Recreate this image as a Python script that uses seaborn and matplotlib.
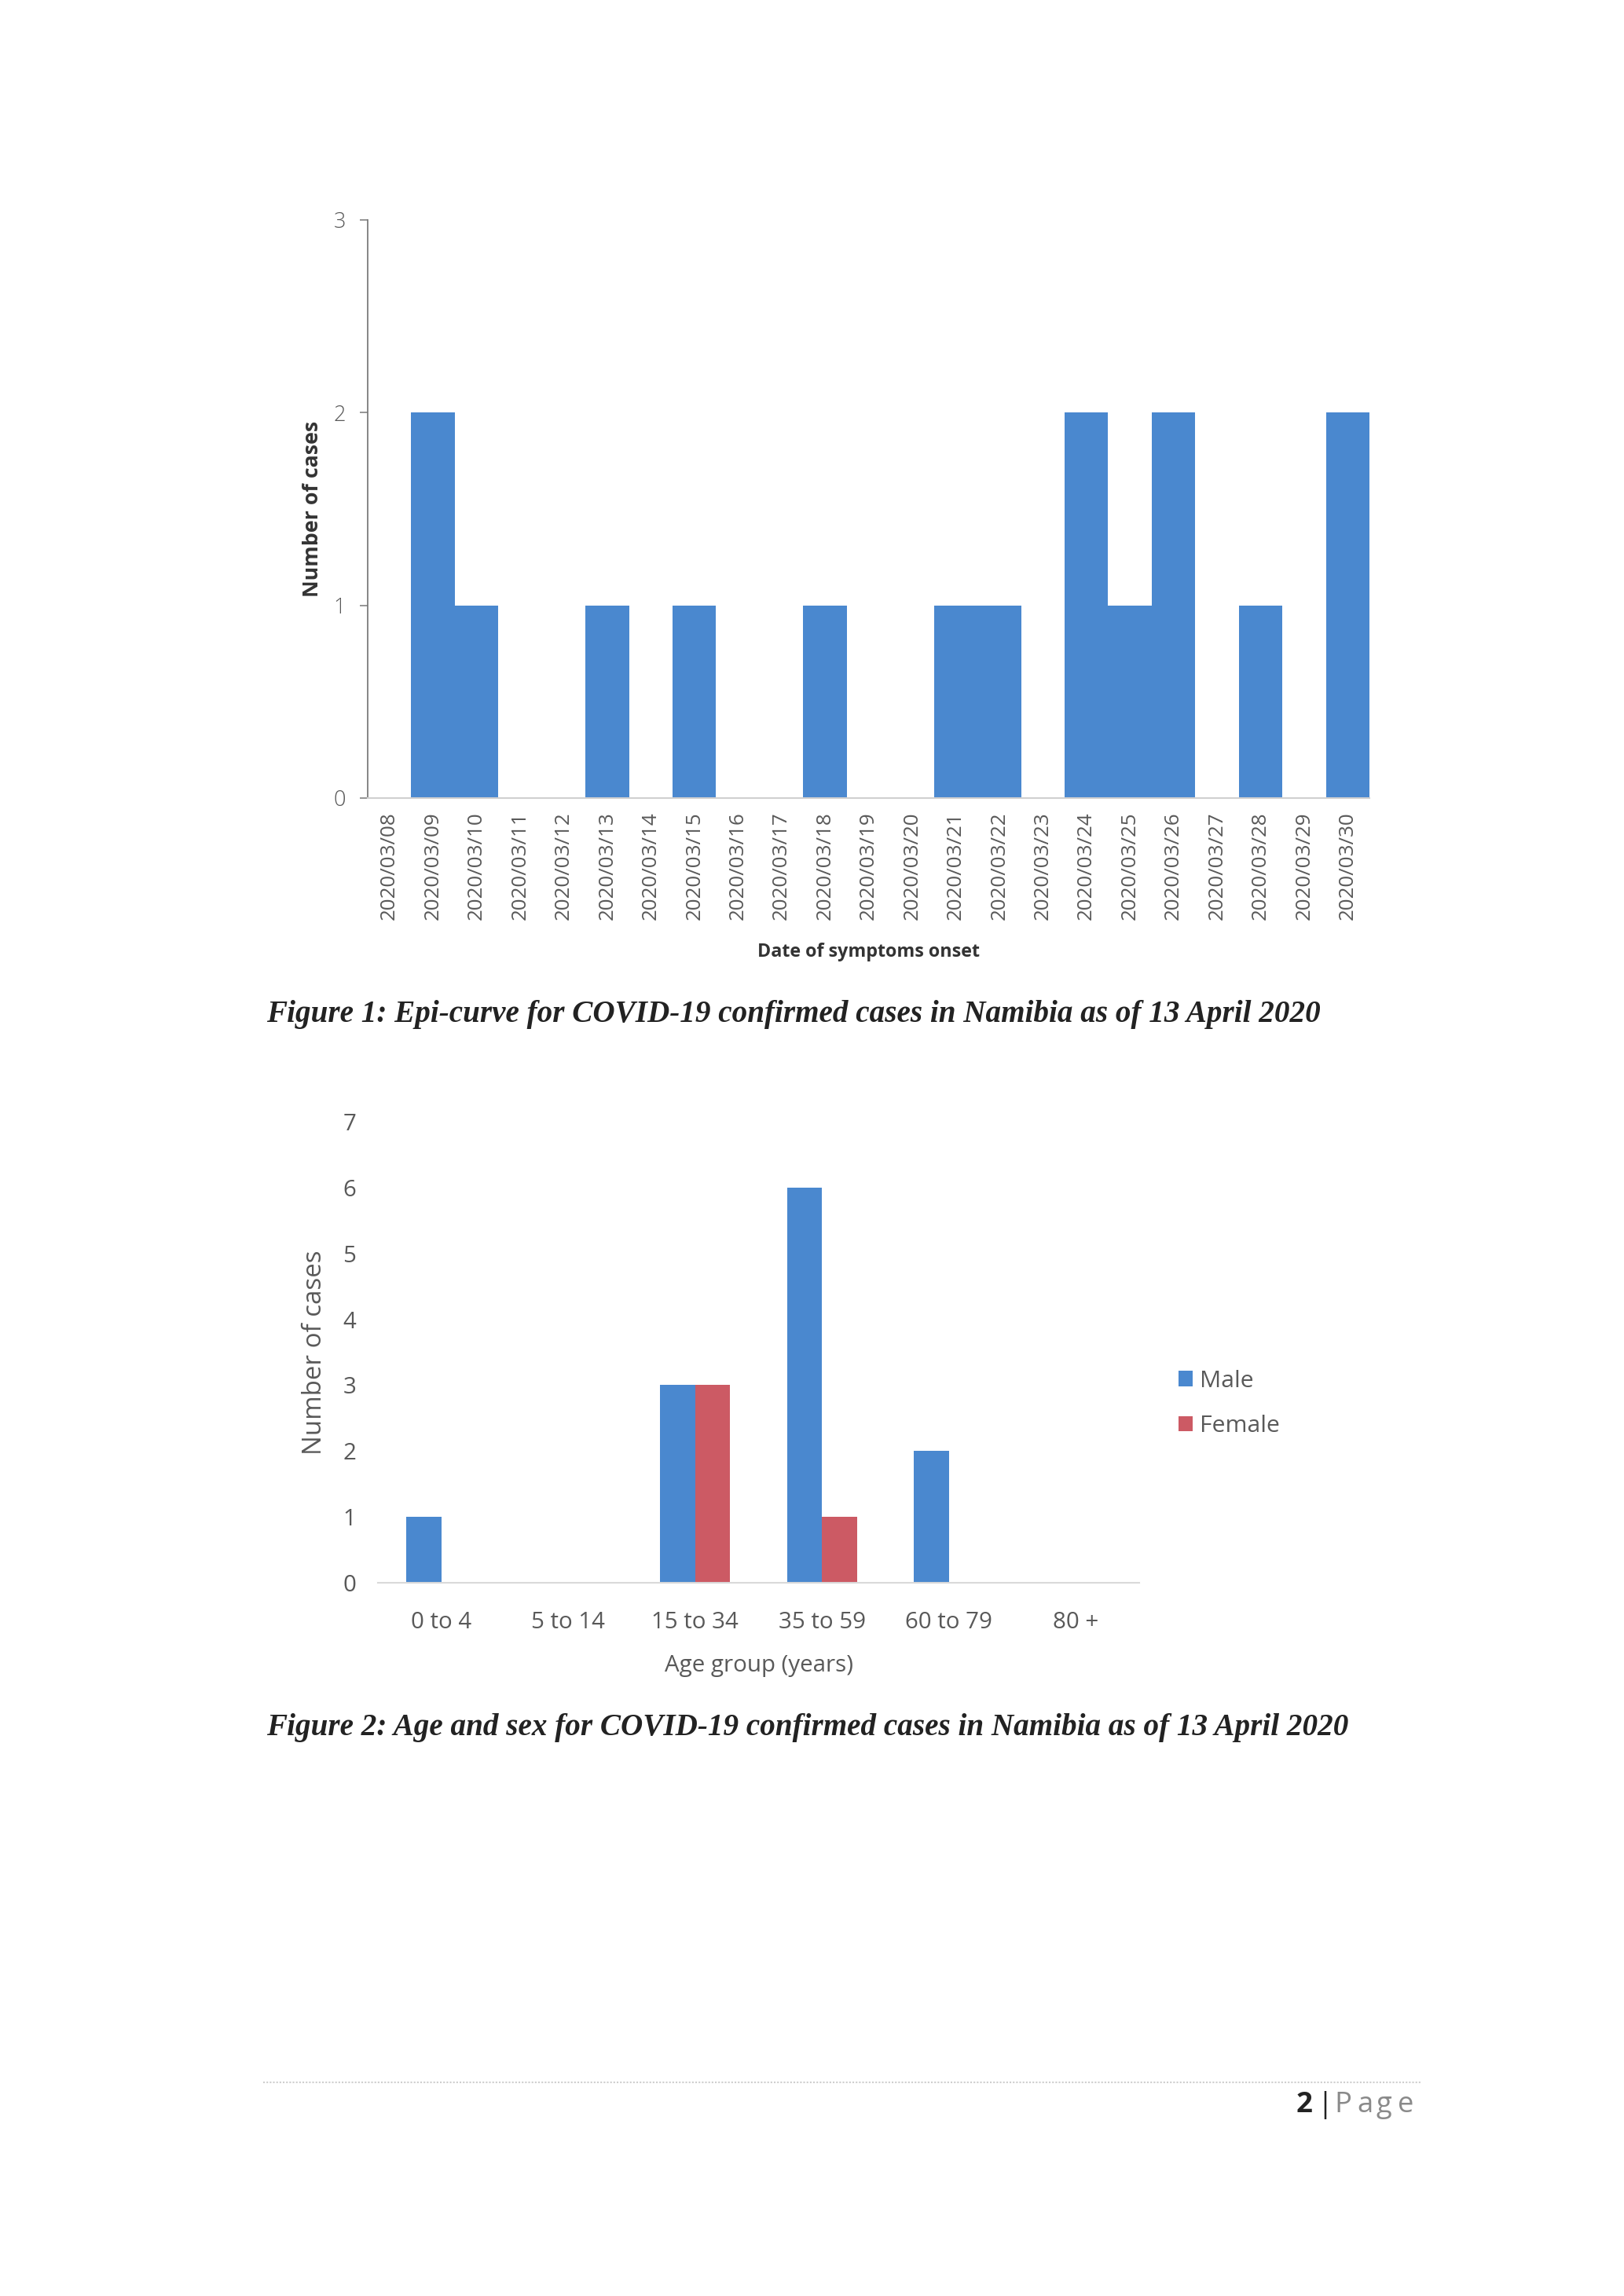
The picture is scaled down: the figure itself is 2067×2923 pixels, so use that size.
import pandas as pd
import matplotlib.pyplot as plt
from matplotlib.lines import Line2D
import seaborn as sns

# Figure 1 data: epi-curve
onset_dates = [
    "2020/03/08", "2020/03/09", "2020/03/10", "2020/03/11", "2020/03/12",
    "2020/03/13", "2020/03/14", "2020/03/15", "2020/03/16", "2020/03/17",
    "2020/03/18", "2020/03/19", "2020/03/20", "2020/03/21", "2020/03/22",
    "2020/03/23", "2020/03/24", "2020/03/25", "2020/03/26", "2020/03/27",
    "2020/03/28", "2020/03/29", "2020/03/30",
]
onset_cases = [0, 2, 1, 0, 0, 1, 0, 1, 0, 0, 1, 0, 0, 1, 1, 0, 2, 1, 2, 0, 1, 0, 2]

# Figure 2 data: age and sex
age_groups = ["0 to 4", "5 to 14", "15 to 34", "35 to 59", "60 to 79", "80 +"]
male_cases = [1, 0, 3, 6, 2, 0]
female_cases = [0, 0, 3, 1, 0, 0]

BLUE = "#4a88cf"
RED = "#cc5a64"
GREY_TEXT = "#595959"

sns.set_theme(style="white")
plt.rcParams['font.family'] = ['Open Sans', 'DejaVu Sans']

W, H, DPI = 2067, 2923, 250
fig = plt.figure(figsize=(W / DPI, H / DPI), dpi=DPI)
fig.patch.set_facecolor("white")


def fx(px):
    return px / W


def fy(py):
    return 1 - py / H


# ---------------- Figure 1 ----------------
ax1 = fig.add_axes([fx(468), fy(1016), fx(1743) - fx(468), fy(280) - fy(1016)])
epi = pd.DataFrame({"date": onset_dates, "cases": onset_cases})
sns.barplot(data=epi, x="date", y="cases", color=BLUE, width=1.0,
            saturation=1, linewidth=0, ax=ax1)
ax1.set_ylim(0, 3)
ax1.set_yticks([0, 1, 2, 3])
ax1.set_xlim(-0.5, len(onset_dates) - 0.5)
ax1.tick_params(axis="x", rotation=90, labelsize=7.5, labelcolor=GREY_TEXT,
                length=0, pad=5)
ax1.tick_params(axis="y", labelsize=7.8, labelcolor=GREY_TEXT, left=True,
                length=3, width=0.5, color="#888888", pad=5)
for lab in ax1.get_yticklabels():
    lab.set_fontweight("light")
for side in ["top", "right"]:
    ax1.spines[side].set_visible(False)
ax1.spines["left"].set_color("#777777")
ax1.spines["left"].set_linewidth(0.5)
ax1.spines["bottom"].set_color("#d0d0d0")
ax1.spines["bottom"].set_linewidth(0.6)
ax1.set_ylabel("Number of cases", fontsize=7.7, fontweight="bold", color="#333333")
ax1.yaxis.set_label_coords(-0.045, 0.5)
ax1.set_xlabel("Date of symptoms onset", fontsize=6.7, fontweight="bold", color="#333333")
ax1.xaxis.set_label_coords(0.5, -0.25)

fig.text(fx(339), fy(1292),
         "Figure 1: Epi-curve for COVID-19 confirmed cases in Namibia as of 13 April 2020",
         family="Liberation Serif", style="italic", weight="bold", fontsize=11.25,
         color="#222222", ha="left", va="center")

# ---------------- Figure 2 ----------------
ax2 = fig.add_axes([fx(481), fy(2015), fx(1450) - fx(481), fy(1428) - fy(2015)])
age = pd.DataFrame({"age_group": age_groups, "Male": male_cases, "Female": female_cases})
age_long = age.melt(id_vars="age_group", var_name="sex", value_name="cases")
sns.barplot(data=age_long, x="age_group", y="cases", hue="sex",
            palette={"Male": BLUE, "Female": RED}, width=0.55,
            saturation=1, linewidth=0, ax=ax2)
ax2.set_ylim(0, 7)
ax2.set_yticks(range(0, 8))
ax2.tick_params(axis="both", labelsize=8.5, labelcolor=GREY_TEXT, length=0)
ax2.tick_params(axis="x", pad=10.5)
ax2.tick_params(axis="y", pad=8)
for side in ["top", "right", "left"]:
    ax2.spines[side].set_visible(False)
ax2.spines["bottom"].set_color("#d9d9d9")
ax2.spines["bottom"].set_linewidth(0.6)
ax2.set_ylabel("Number of cases", fontsize=9.5, color=GREY_TEXT)
ax2.yaxis.set_label_coords(-0.066, 0.5)
ax2.set_xlabel("Age group (years)", fontsize=8.5, color=GREY_TEXT)
ax2.xaxis.set_label_coords(0.5, -0.155)
ax2.legend(loc="center left", bbox_to_anchor=(fx(1473), fy(1787)),
           bbox_transform=fig.transFigure, frameon=False, fontsize=8.7,
           handlelength=0.6, handleheight=0.6, handletextpad=0.3,
           labelspacing=0.95, labelcolor=GREY_TEXT)

fig.text(fx(339), fy(2200),
         "Figure 2: Age and sex for COVID-19 confirmed cases in Namibia as of 13 April 2020",
         family="Liberation Serif", style="italic", weight="bold", fontsize=11.25,
         color="#222222", ha="left", va="center")

# ---------------- Page footer ----------------
fig.add_artist(Line2D([fx(335), fx(1808)], [fy(2651), fy(2651)],
                      color="#cfcfcf", linewidth=0.6, linestyle=(0, (1, 1))))
fig.text(fx(1650), fy(2680), "2", fontsize=10.5, fontweight="bold",
         color="#222222", ha="left", va="center")
fig.text(fx(1676), fy(2680), "|", fontsize=10.5, color="#222222",
         ha="left", va="center")
# letter-spaced "Page" as in the reference
for letter, px in zip("Page", [1698, 1727, 1752, 1779]):
    fig.text(fx(px), fy(2680), letter, fontsize=10.5, color="#8a8a8a",
             ha="left", va="center")

fig.savefig("out.png", dpi=DPI, facecolor="white")
